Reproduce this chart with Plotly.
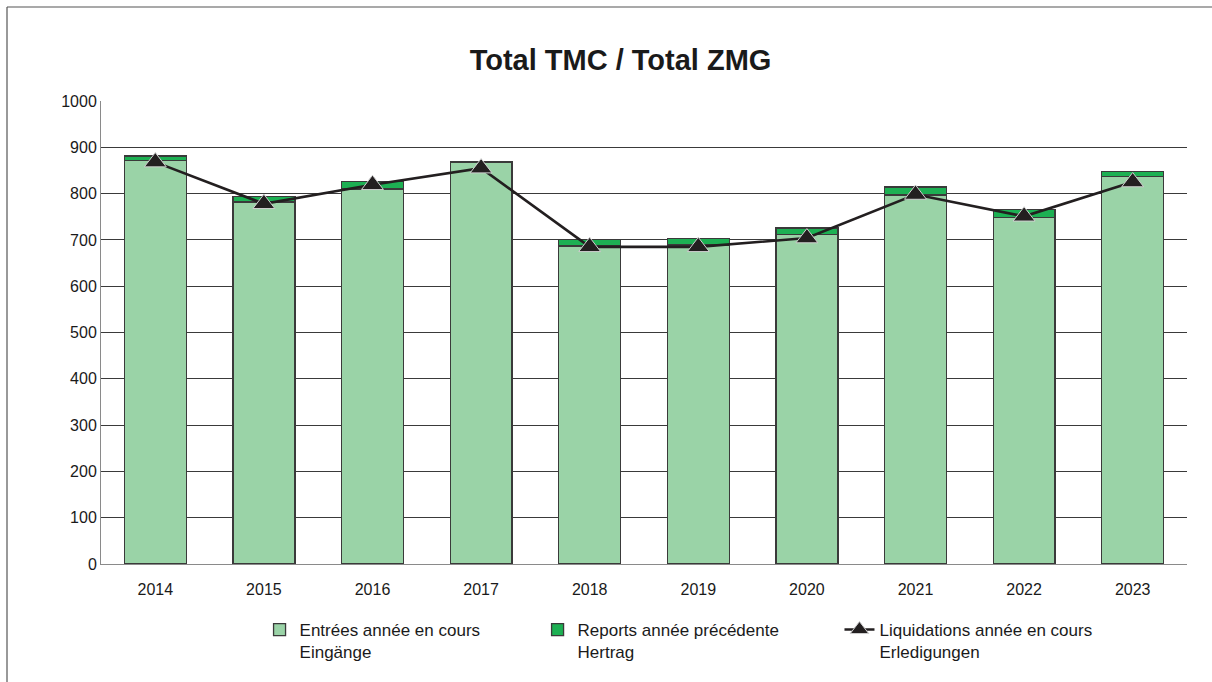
import plotly.graph_objects as go

years = ["2014", "2015", "2016", "2017", "2018", "2019", "2020", "2021", "2022", "2023"]
entrees = [871, 782, 810, 867, 687, 689, 711, 797, 749, 837]
reports = [10, 12, 16, 3, 14, 14, 15, 17, 16, 11]
liquidations = [868, 778, 819, 855, 685, 685, 704, 798, 751, 825]
y_ticks = [0, 100, 200, 300, 400, 500, 600, 700, 800, 900, 1000]

FONT = "Liberation Sans, Arial, sans-serif"
TXT = "#1a1a1a"

fig = go.Figure()
fig.add_trace(go.Bar(
    x=years, y=entrees, name="Entrées année en cours<br>Eingänge",
    marker=dict(color="#9AD3A7", line=dict(color="#3a3a3a", width=1.3)),
    legend="legend", showlegend=True,
))
fig.add_trace(go.Bar(
    x=years, y=reports, name="Reports année précédente<br>Hertrag",
    marker=dict(color="#1DB053", line=dict(color="#3a3a3a", width=1.3)),
    legend="legend2", showlegend=True,
))
fig.add_trace(go.Scatter(
    x=years, y=liquidations, name="Liquidations année en cours<br>Erledigungen",
    mode="lines+markers",
    line=dict(color="#231F20", width=2.6),
    marker=dict(symbol="triangle-up", size=19, color="#231F20",
                line=dict(color="#d0d0d0", width=1)),
    legend="legend3", showlegend=True,
))

leg_common = dict(orientation="v", yanchor="top", xanchor="left",
                  yref="container", y=1 - 612 / 682,
                  font=dict(family=FONT, size=17, color=TXT), valign="top",
                  bgcolor="rgba(0,0,0,0)", tracegroupgap=0, visible=True)

fig.update_layout(
    width=1212, height=682,
    showlegend=True,
    paper_bgcolor="white", plot_bgcolor="white",
    margin=dict(l=101, r=25, t=101, b=118),
    barmode="stack", bargap=0.43,
    title=dict(text="<b>Total TMC / Total ZMG</b>", x=0.512, xref="container",
               y=1 - 60 / 682, yref="container", yanchor="middle", xanchor="center",
               font=dict(family=FONT, size=29, color=TXT)),
    font=dict(family=FONT, size=16, color=TXT),
    legend=dict(x=0.146, **leg_common),
    legend2=dict(x=0.402, **leg_common),
    legend3=dict(x=0.680, **leg_common),
    xaxis=dict(type="category", range=[-0.5, len(years) - 0.5],
               showline=True, linecolor="#8a8a8a", linewidth=1,
               ticks="", ticklabelstandoff=11,
               tickfont=dict(family=FONT, size=16, color=TXT), showgrid=False),
    yaxis=dict(range=[0, 1000], tickvals=y_ticks, showline=True, linecolor="#8a8a8a",
               linewidth=1, gridcolor="#3a3a3a", gridwidth=1, zeroline=False,
               ticks="", tickfont=dict(family=FONT, size=16, color=TXT)),
    shapes=[
        dict(type="line", xref="paper", yref="paper",
             x0=(7 - 101) / 1086, x1=(1212 - 101) / 1086,
             y0=(564 - 7) / 463, y1=(564 - 7) / 463,
             line=dict(color="#555555", width=1.2)),
        dict(type="line", xref="paper", yref="paper",
             x0=(7 - 101) / 1086, x1=(7 - 101) / 1086,
             y0=(564 - 7) / 463, y1=(564 - 682) / 463,
             line=dict(color="#555555", width=1.2)),
    ],
)

fig.write_html("out.html", config={"displayModeBar": False},
               post_script="document.body.style.margin='0';document.body.style.overflow='hidden';")
